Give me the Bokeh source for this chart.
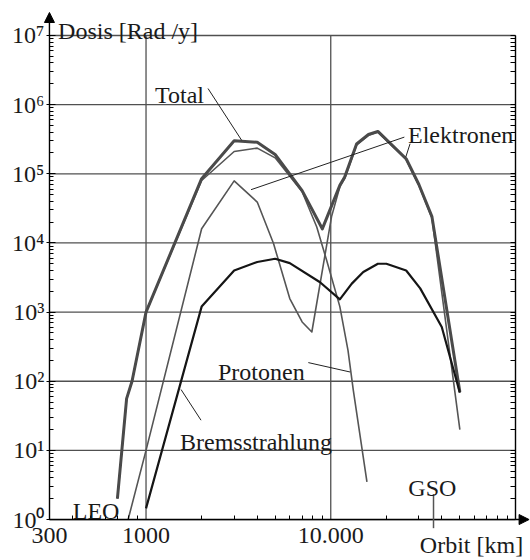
from bokeh.models import (Plot, ColumnDataSource, Line, FixedTicker, LogAxis,
                          Label, Arrow, NormalHead, Range1d, LogScale)
from bokeh.embed import file_html
from bokeh.resources import INLINE

# ---------------- data ----------------
total_km = [700, 785, 840, 1000, 2000, 3000, 4000, 5000, 7000, 9000, 11200, 11900,
            13800, 16000, 18000, 25600, 30000, 35300, 50000]
total_dose = [2, 56, 100, 1000, 8.5e4, 3.0e5, 2.85e5, 1.9e5, 5.7e4, 1.6e4, 6.8e4, 9.0e4,
              2.7e5, 3.7e5, 4.1e5, 1.65e5, 7.0e4, 2.4e4, 70]

protons_km = [700, 785, 840, 1000, 2000, 3000, 4000, 5000, 7000, 8400, 9500, 11200,
              12400, 13250, 15700]
protons_dose = [2, 56, 100, 1000, 8.0e4, 2.1e5, 2.35e5, 1.7e5, 5.5e4, 1.7e4, 5600, 1200,
                280, 74, 3.5]

electrons_km = [800, 1000, 2000, 3000, 4000, 4900, 6000, 7000, 7900, 10100, 11200, 11900,
                13800, 16000, 18000, 25600, 30000, 35300, 50000]
electrons_dose = [1, 10, 1.6e4, 7.9e4, 3.9e4, 9800, 1570, 720, 515, 2.4e4, 6.5e4, 8.5e4,
                  2.6e5, 3.6e5, 4.0e5, 1.6e5, 6.8e4, 2.3e4, 20]

brems_km = [1000, 2000, 3000, 4000, 5000, 6000, 8750, 11200, 13000, 15000, 18000, 20000,
            25600, 30500, 39900, 50000]
brems_dose = [1.45, 1200, 4000, 5300, 5900, 5100, 2700, 1530, 2580, 3800, 5000, 5000,
              4000, 2200, 610, 68]

x_ticks = [300, 1000, 10000]
x_tick_labels = ["300", "1000", "10.000"]
x_grid = [1000, 10000]
y_ticks = [1, 10, 100, 1000, 1e4, 1e5, 1e6, 1e7]
y_tick_labels = ["10\u2070", "10\u00b9", "10\u00b2", "10\u00b3", "10\u2074", "10\u2075",
                 "10\u2076", "10\u2077"]
GSO_KM = 36000

x_minor = [m * d for d in (100, 1000, 10000) for m in range(2, 10) if 300 < m * d < 1e5]
y_minor = [m * d for d in (1, 10, 100, 1000, 1e4, 1e5, 1e6) for m in range(2, 10)]

X_MIN, X_MAX = 300, 1e5
Y_MIN, Y_MAX = 1, 1e7

FONT = "Liberation Serif"
TXT = "#1a1a1a"
GRID = "#505050"

# the frame fills the whole canvas; axes are drawn at fixed data locations
p = Plot(width=530, height=560,
         x_range=Range1d(163, 120600), y_range=Range1d(0.2556, 3.205e7),
         x_scale=LogScale(), y_scale=LogScale(),
         output_backend="svg", toolbar_location=None, title=None,
         min_border=0, min_border_left=0, min_border_right=0,
         min_border_top=0, min_border_bottom=0,
         background_fill_color="white", border_fill_color="white",
         outline_line_color=None)

# grid lines, limited to the plotting box (one line glyph per grid line)
for d in y_ticks:
    p.add_glyph(ColumnDataSource(dict(x=[X_MIN, X_MAX], y=[d, d])),
                Line(x="x", y="y", line_color=GRID, line_width=1.3))
for g in x_grid:
    p.add_glyph(ColumnDataSource(dict(x=[g, g], y=[Y_MIN, Y_MAX])),
                Line(x="x", y="y", line_color=GRID, line_width=1.3))

common = dict(axis_line_color="black", axis_line_width=1.4,
              minor_tick_line_color="black",
              major_label_text_font=FONT, major_label_text_font_size="24px",
              major_label_text_color=TXT)

# bottom axis: labels only on the major ticks, tick marks from the minor list
xa = LogAxis(ticker=FixedTicker(ticks=x_ticks, minor_ticks=x_minor),
             major_label_overrides=dict(zip(x_ticks, x_tick_labels)),
             major_tick_in=0, major_tick_out=0, major_tick_line_color=None,
             minor_tick_in=4, minor_tick_out=0,
             major_label_standoff=8, fixed_location=Y_MIN, bounds=(X_MIN, X_MAX), **common)
p.add_layout(xa, "below")

ya = LogAxis(ticker=FixedTicker(ticks=y_ticks, minor_ticks=y_minor),
             major_label_overrides=dict(zip(y_ticks, y_tick_labels)),
             major_tick_in=6, major_tick_out=3, major_tick_line_color="black",
             minor_tick_in=4, minor_tick_out=0,
             major_label_standoff=2, fixed_location=X_MIN, bounds=(Y_MIN, Y_MAX), **common)
p.add_layout(ya, "left")

ra = LogAxis(ticker=FixedTicker(ticks=y_ticks, minor_ticks=sorted(y_minor + y_ticks)),
             major_label_overrides={t: "" for t in y_ticks},
             major_tick_in=0, major_tick_out=0, major_tick_line_color=None,
             minor_tick_in=5, minor_tick_out=0,
             major_label_standoff=0, fixed_location=X_MAX, bounds=(Y_MIN, Y_MAX),
             axis_line_color="black", axis_line_width=1.4,
             minor_tick_line_color="black")
p.add_layout(ra, "right")

# curves
series = [
    (protons_km, protons_dose, 1.6, "#555555"),
    (electrons_km, electrons_dose, 1.6, "#555555"),
    (total_km, total_dose, 3.0, "#4a4a4a"),
    (brems_km, brems_dose, 2.2, "#151515"),
]
for xs, ys, w, c in series:
    src = ColumnDataSource(dict(x=xs, y=ys))
    p.add_glyph(src, Line(x="x", y="y", line_width=w, line_color=c, line_join="round"))

# axis arrows
p.add_layout(Arrow(end=NormalHead(size=10, fill_color="black", line_color="black"),
                   x_start=X_MAX, y_start=Y_MIN, x_end=1.185e5, y_end=Y_MIN,
                   line_color="black", line_width=1.4))
p.add_layout(Arrow(end=NormalHead(size=10, fill_color="black", line_color="black"),
                   x_start=X_MIN, y_start=Y_MAX, x_end=X_MIN, y_end=2.15e7,
                   line_color="black", line_width=1.4))

# GSO marker
p.add_layout(Arrow(end=None, x_start=GSO_KM, y_start=2.33, x_end=GSO_KM, y_end=0.75,
                   line_color="#555555", line_width=1.5))

# pointer lines
pointers = [
    (2166, 1.71e6, 3296, 3.04e5),      # Total
    (25030, 3.39e5, 3702, 5.89e4),     # Elektronen (inner belt)
    (26880, 2.72e5, 25470, 1.74e5),    # Elektronen (outer belt)
    (7561, 186, 12720, 136),           # Protonen
    (1985, 27.3, 1547, 75.9),          # Bremsstrahlung
]
for x0, y0, x1, y1 in pointers:
    p.add_layout(Arrow(end=None, x_start=x0, y_start=y0, x_end=x1, y_end=y1,
                       line_color="#222222", line_width=1))

labels = [
    ("Total", 1119, 1.36e6, "left"),
    ("Elektronen", 26200, 3.59e5, "left"),
    ("Protonen", 2453, 135, "left"),
    ("Bremsstrahlung", 1528, 13.1, "left"),
    ("LEO", 401, 1.32, "left"),
    ("GSO", 26300, 2.84, "left"),
    ("Orbit [km]", 1.1e5, 0.43, "right"),
    ("Dosis [Rad /y]", 334, 1.18e7, "left"),
]
for t, x, y, al in labels:
    p.add_layout(Label(x=x, y=y, text=t, text_font=FONT, text_font_size="24px",
                       text_color=TXT, text_align=al, text_baseline="alphabetic"))

open("out.html", "w").write(file_html(p, INLINE))
